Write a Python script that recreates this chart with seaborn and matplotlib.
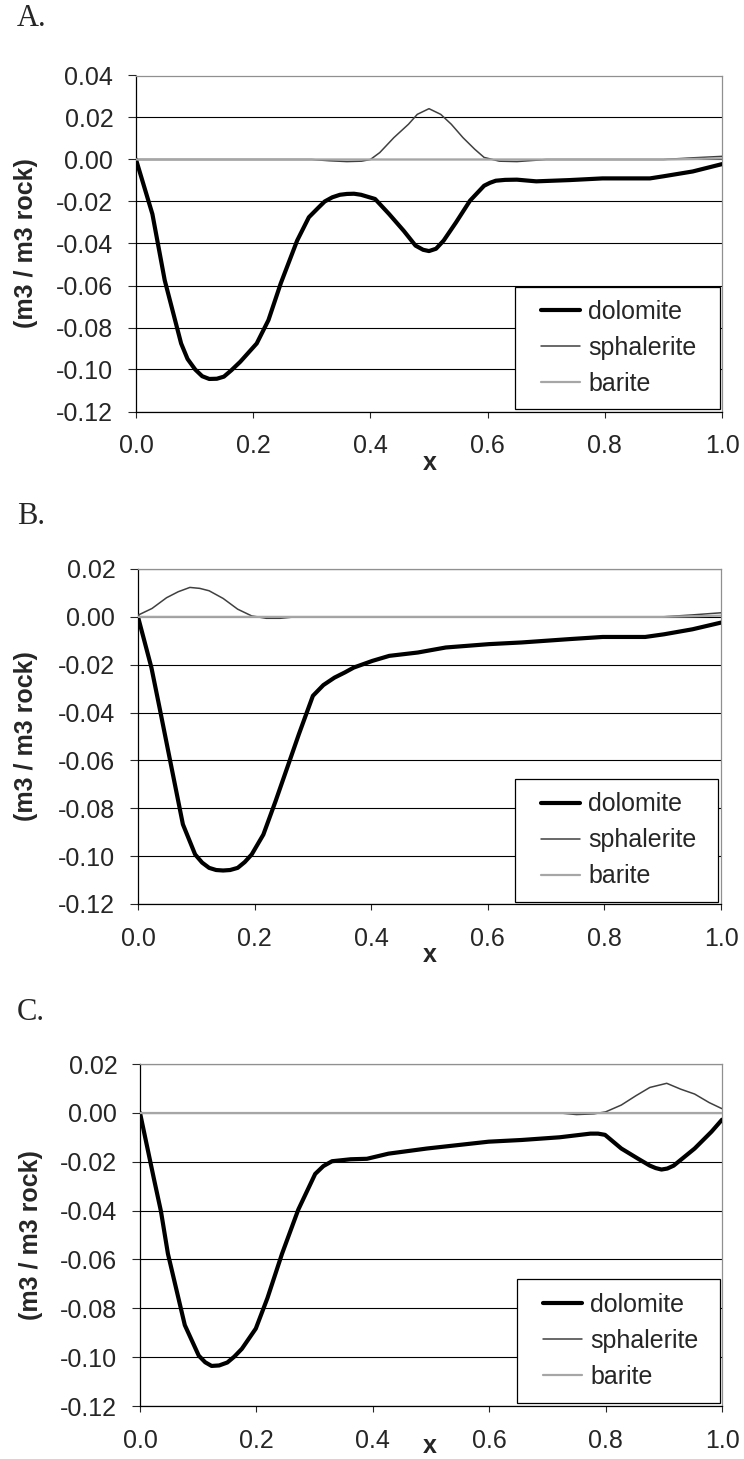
import numpy as np
import pandas as pd
import matplotlib
matplotlib.use("Agg")
import matplotlib.pyplot as plt
import seaborn as sns
from matplotlib.patches import Rectangle
from matplotlib.ticker import FormatStrFormatter, MultipleLocator

# ---------------------------------------------------------------------------
# Data (x = distance, y = volume change)
# ---------------------------------------------------------------------------
MINERALS = ["dolomite", "sphalerite", "barite"]

# Panel A
A_DOL_X = [0.0, 0.028, 0.049, 0.077, 0.088, 0.101, 0.113, 0.125, 0.138, 0.15, 0.163,
           0.178, 0.206, 0.226, 0.247, 0.275, 0.295, 0.311, 0.322, 0.335, 0.348, 0.36,
           0.372, 0.384, 0.408, 0.432, 0.457, 0.477, 0.49, 0.50, 0.512, 0.525, 0.546,
           0.57, 0.594, 0.604, 0.614, 0.63, 0.65, 0.683, 0.74, 0.796, 0.877, 0.90,
           0.95, 1.0]
A_DOL_Y = [0.0, -0.026, -0.0575, -0.0876, -0.095, -0.100, -0.1032, -0.1045, -0.1044,
           -0.1034, -0.1003, -0.0963, -0.0876, -0.0765, -0.059, -0.0386, -0.0275,
           -0.023, -0.020, -0.018, -0.0168, -0.0164, -0.0163, -0.0168, -0.0188, -0.026,
           -0.034, -0.041, -0.0430, -0.0436, -0.0425, -0.0386, -0.030, -0.0196, -0.0125,
           -0.0111, -0.0101, -0.0097, -0.0096, -0.0104, -0.0098, -0.009, -0.009, -0.008,
           -0.0057, -0.0022]
A_SPH_X = [0.0, 0.30, 0.33, 0.36, 0.385, 0.40, 0.416, 0.44, 0.465, 0.48, 0.50, 0.52,
           0.538, 0.558, 0.578, 0.594, 0.62, 0.65, 0.68, 0.70, 0.90, 0.95, 1.0]
A_SPH_Y = [0.0, 0.0, -0.0006, -0.001, -0.0008, 0.0, 0.0033, 0.0104, 0.0168, 0.0215,
           0.0242, 0.0215, 0.0168, 0.0104, 0.0049, 0.001, -0.0008, -0.001, -0.0004, 0.0,
           0.0, 0.0008, 0.0015]
A_BAR_X = [0.0, 0.9, 1.0]
A_BAR_Y = [0.0, 0.0, 0.0005]

# Panel B
B_DOL_X = [0.0, 0.023, 0.037, 0.053, 0.077, 0.098, 0.11, 0.122, 0.134, 0.146, 0.158,
           0.171, 0.183, 0.195, 0.215, 0.236, 0.256, 0.276, 0.30, 0.318, 0.337, 0.355,
           0.37, 0.402, 0.431, 0.48, 0.528, 0.602, 0.658, 0.74, 0.797, 0.87, 0.902,
           0.951, 1.0]
B_DOL_Y = [0.0, -0.0212, -0.038, -0.0575, -0.0867, -0.0993, -0.1027, -0.1049, -0.1058,
           -0.1060, -0.1058, -0.1049, -0.1025, -0.0993, -0.091, -0.077, -0.063, -0.049,
           -0.033, -0.0285, -0.0254, -0.0232, -0.0212, -0.0184, -0.0163, -0.0149,
           -0.0128, -0.0114, -0.0107, -0.0093, -0.0084, -0.0084, -0.0073, -0.0052,
           -0.0024]
B_SPH_X = [0.0, 0.024, 0.049, 0.069, 0.089, 0.106, 0.122, 0.146, 0.171, 0.195, 0.22,
           0.244, 0.27, 0.90, 0.95, 1.0]
B_SPH_Y = [0.0007, 0.0035, 0.008, 0.0105, 0.0123, 0.0119, 0.0109, 0.0077, 0.0032,
           0.0004, -0.0006, -0.0006, 0.0, 0.0, 0.0008, 0.0017]
B_BAR_X = [0.0, 0.9, 1.0]
B_BAR_Y = [0.0, 0.0, 0.0005]

# Panel C
C_DOL_X = [0.0, 0.024, 0.036, 0.048, 0.077, 0.101, 0.112, 0.123, 0.136, 0.15, 0.162,
           0.175, 0.199, 0.219, 0.244, 0.272, 0.301, 0.315, 0.33, 0.362, 0.39, 0.427,
           0.493, 0.599, 0.656, 0.721, 0.774, 0.787, 0.799, 0.827, 0.856, 0.876,
           0.886, 0.896, 0.906, 0.917, 0.953, 0.982, 1.0]
C_DOL_Y = [0.0, -0.0271, -0.0403, -0.0577, -0.0869, -0.0994, -0.1021, -0.1036, -0.1034,
           -0.1022, -0.0998, -0.0966, -0.0883, -0.0758, -0.0577, -0.0396, -0.025,
           -0.0218, -0.0198, -0.019, -0.0188, -0.0167, -0.0146, -0.0118, -0.0111,
           -0.010, -0.0085, -0.0085, -0.009, -0.0146, -0.0188, -0.0216, -0.0226,
           -0.0232, -0.0228, -0.0216, -0.0146, -0.0077, -0.0028]
C_SPH_X = [0.0, 0.72, 0.75, 0.78, 0.80, 0.827, 0.852, 0.876, 0.905, 0.929, 0.953,
           0.978, 1.0]
C_SPH_Y = [0.0, 0.0, -0.0007, -0.0004, 0.0004, 0.0032, 0.007, 0.0104, 0.0121, 0.0097,
           0.0077, 0.0042, 0.0017]
C_BAR_X = [0.0, 1.0]
C_BAR_Y = [0.0, 0.0]

PANEL_NAMES = ["A.", "B.", "C."]
Y_LIMITS = [(-0.12, 0.04), (-0.12, 0.02), (-0.12, 0.02)]

Y_LABEL = "(m3 / m3 rock)"
X_LABEL = "x"

# ---------------------------------------------------------------------------
# Styling / layout
# ---------------------------------------------------------------------------
sns.set_style("white")
plt.rcParams["font.family"] = ["Liberation Sans", "DejaVu Sans"]
plt.rcParams["axes.unicode_minus"] = False

STYLE = {
    "dolomite": dict(color="black", linewidth=3.0),
    "sphalerite": dict(color="#404040", linewidth=1.1),
    "barite": dict(color="#a6a6a6", linewidth=1.6),
}

W, H = 744, 1459
# plot areas in pixels: left, top, right, bottom
AX_PX = [(136, 75.5, 722, 411.5), (138, 569, 721, 904), (140, 1064, 722, 1406)]
PANEL_LABEL_PX = [18.5, 516, 1013]
YLABEL_X_PX = [26, 26, 31]
XLABEL_DY_PX = [51, 51, 40]
# legend boxes in axes fractions: x0, y0, x1, y1
LEG_BOX = [(0.647, 0.008, 0.996, 0.370),
           (0.647, 0.007, 0.994, 0.3735),
           (0.648, 0.010, 0.997, 0.372)]
LEG_INSET_PX = 26


def panel_frame(xs, ys):
    rows = []
    for name, x, y in zip(MINERALS, xs, ys):
        rows.append(pd.DataFrame({"x": x, "value": y, "mineral": name}))
    return pd.concat(rows, ignore_index=True)


panels = [
    panel_frame([A_DOL_X, A_SPH_X, A_BAR_X], [A_DOL_Y, A_SPH_Y, A_BAR_Y]),
    panel_frame([B_DOL_X, B_SPH_X, B_BAR_X], [B_DOL_Y, B_SPH_Y, B_BAR_Y]),
    panel_frame([C_DOL_X, C_SPH_X, C_BAR_X], [C_DOL_Y, C_SPH_Y, C_BAR_Y]),
]

fig = plt.figure(figsize=(W / 100, H / 100), dpi=100)

for i, df in enumerate(panels):
    l, t, r, b = AX_PX[i]
    ax = fig.add_axes([l / W, 1 - b / H, (r - l) / W, (b - t) / H])
    ax_w, ax_h = r - l, b - t

    for name in MINERALS:
        sub = df[df["mineral"] == name]
        sns.lineplot(data=sub, x="x", y="value", ax=ax, label=name,
                     sort=False, estimator=None, zorder=3, **STYLE[name])

    ax.set_xlim(0, 1)
    ax.set_ylim(*Y_LIMITS[i])
    ax.xaxis.set_major_locator(MultipleLocator(0.2))
    ax.yaxis.set_major_locator(MultipleLocator(0.02))
    ax.xaxis.set_major_formatter(FormatStrFormatter("%.1f"))
    ax.yaxis.set_major_formatter(FormatStrFormatter("%.2f"))

    ax.grid(axis="y", color="black", linewidth=0.8)
    ax.grid(axis="x", visible=False)
    ax.set_axisbelow(True)

    for side in ["left", "bottom"]:
        ax.spines[side].set_color("black")
        ax.spines[side].set_linewidth(0.9)
    for side in ["top", "right"]:
        ax.spines[side].set_color("#909090")
        ax.spines[side].set_linewidth(0.9)

    ax.tick_params(axis="y", direction="out", length=5.8, width=0.8,
                   pad=10.5, labelsize=18, left=True)
    ax.tick_params(axis="x", direction="out", length=4.3, width=0.8,
                   pad=12, labelsize=18, bottom=True)

    ax.set_ylabel(Y_LABEL, fontsize=18, fontweight="bold", va="center")
    ax.yaxis.set_label_coords((YLABEL_X_PX[i] - l) / ax_w, 0.5)
    ax.set_xlabel(X_LABEL, fontsize=18, fontweight="bold", va="center")
    ax.xaxis.set_label_coords((430 - l) / ax_w, -XLABEL_DY_PX[i] / ax_h)

    # legend: white box with black frame, entries inset from its left edge
    x0, y0, x1, y1 = LEG_BOX[i]
    ax.add_patch(Rectangle((x0, y0), x1 - x0, y1 - y0, transform=ax.transAxes,
                           facecolor="white", edgecolor="black", linewidth=0.9,
                           zorder=4, clip_on=False))
    leg = ax.legend(loc="center left",
                    bbox_to_anchor=(x0 + LEG_INSET_PX / ax_w, (y0 + y1) / 2),
                    frameon=False, fontsize=18, handlelength=1.56,
                    handletextpad=0.32, borderpad=0.0, labelspacing=0.48,
                    borderaxespad=0.0)
    leg.set_zorder(5)

    fig.text(17 / W, 1 - PANEL_LABEL_PX[i] / H, PANEL_NAMES[i], fontsize=22,
             family=["Liberation Serif", "DejaVu Serif"], va="center", ha="left")

fig.savefig("out.png", dpi=100)
